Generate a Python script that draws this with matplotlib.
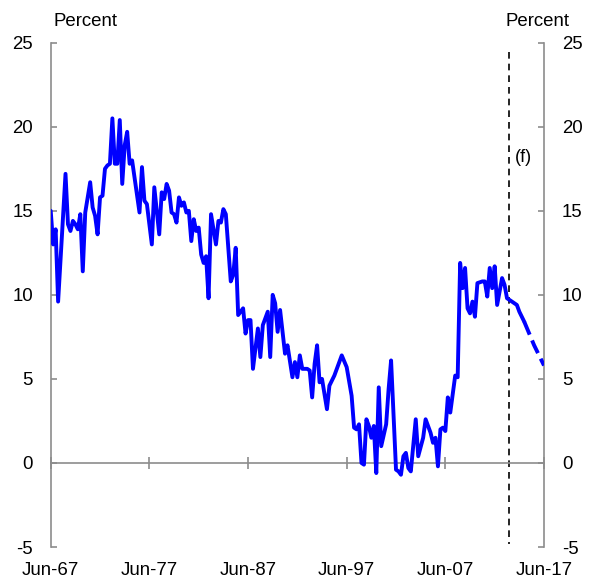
import matplotlib.pyplot as plt

# quarterly series (year-ended, per cent)
dates = [
    "1967-06", "1967-09", "1967-12", "1968-03", "1968-12", "1969-03", "1969-06", "1969-09",
    "1969-12", "1970-03", "1970-06", "1970-09", "1970-12", "1971-06", "1971-09", "1971-12",
    "1972-03", "1972-06", "1972-09", "1972-12", "1973-03", "1973-06", "1973-09", "1973-12",
    "1974-03", "1974-06", "1974-09", "1974-12", "1975-03", "1975-06", "1975-09", "1976-06",
    "1976-09", "1976-12", "1977-03", "1977-09", "1977-12", "1978-06", "1978-09", "1978-12",
    "1979-03", "1979-06", "1979-09", "1979-12", "1980-03", "1980-06", "1980-09", "1980-12",
    "1981-03", "1981-06", "1981-09", "1981-12", "1982-03", "1982-06", "1982-09", "1982-12",
    "1983-03", "1983-06", "1983-09", "1984-03", "1984-06", "1984-09", "1984-12", "1985-03",
    "1985-09", "1985-12", "1986-03", "1986-06", "1986-12", "1987-03", "1987-06", "1987-09",
    "1987-12", "1988-06", "1988-09", "1988-12", "1989-06", "1989-09", "1989-12", "1990-03",
    "1990-06", "1990-09", "1990-12", "1991-03", "1991-06", "1991-12", "1992-03", "1992-06",
    "1992-09", "1992-12", "1993-06", "1993-09", "1993-12", "1994-03", "1994-06", "1994-09",
    "1994-12", "1995-06", "1995-09", "1996-03", "1996-12", "1997-06", "1997-12", "1998-03",
    "1998-06", "1998-09", "1998-12", "1999-03", "1999-06", "1999-09", "1999-12", "2000-03",
    "2000-06", "2000-09", "2000-12", "2001-06", "2001-09", "2001-12", "2002-06", "2002-09",
    "2002-12", "2003-03", "2003-06", "2003-09", "2003-12", "2004-06", "2004-09", "2005-03",
    "2005-06", "2005-12", "2006-03", "2006-06", "2006-09", "2006-12", "2007-03", "2007-06",
    "2007-09", "2007-12", "2008-03", "2008-06", "2008-09", "2008-12", "2009-03", "2009-06",
    "2009-09", "2009-12", "2010-03", "2010-06", "2010-09", "2011-03", "2011-06", "2011-09",
    "2011-12", "2012-03", "2012-06", "2012-09", "2013-03", "2013-06", "2013-09", "2014-03",
    "2014-09", "2014-12", "2015-06",
]
values = [
    15.0, 13.0, 13.9, 9.6, 17.2, 14.2, 13.8, 14.4,
    14.2, 13.9, 14.8, 11.4, 14.9, 16.7, 15.2, 14.7,
    13.6, 15.8, 15.9, 17.5, 17.7, 17.8, 20.5, 17.8,
    17.8, 20.4, 16.6, 18.9, 19.7, 17.8, 18.0, 14.9,
    17.6, 15.6, 15.4, 13.0, 16.4, 13.6, 16.1, 15.7,
    16.6, 16.2, 14.9, 14.8, 14.3, 15.8, 15.3, 15.5,
    14.9, 15.0, 13.2, 14.5, 13.8, 14.0, 12.4, 11.9,
    12.3, 9.8, 14.8, 13.0, 14.4, 14.3, 15.1, 14.8,
    10.8, 11.2, 12.8, 8.8, 9.2, 7.7, 8.5, 8.5,
    5.6, 8.0, 6.3, 8.2, 9.0, 6.3, 10.0, 9.5,
    7.8, 9.1, 7.8, 6.5, 7.0, 5.1, 6.0, 5.1,
    6.4, 5.6, 5.6, 5.5, 3.9, 5.9, 7.0, 4.8,
    5.0, 3.2, 4.6, 5.2, 6.4, 5.7, 4.0, 2.1,
    2.0, 2.3, 0.0, -0.1, 2.6, 2.2, 1.5, 2.2,
    -0.6, 4.5, 1.0, 2.3, 4.4, 6.1, -0.4, -0.5,
    -0.7, 0.4, 0.6, -0.3, -0.5, 2.6, 0.4, 1.5,
    2.6, 1.8, 1.2, 1.5, -0.2, 2.0, 2.1, 1.9,
    3.9, 3.0, 4.1, 5.2, 5.1, 11.9, 10.4, 11.6,
    9.2, 8.9, 9.6, 8.7, 10.7, 10.8, 10.8, 9.9,
    11.6, 10.4, 11.7, 9.4, 11.0, 10.6, 9.8, 9.6,
    9.4, 9.0, 8.4,
]

# forecast
fcast_dates = ["2015-06", "2016-06", "2017-06"]
fcast_values = [8.4, 7.0, 5.8]
fcast_start = "2013-11"

xtick_dates = ["1967-06", "1977-06", "1987-06", "1997-06", "2007-06", "2017-06"]
xtick_labels = ["Jun-67", "Jun-77", "Jun-87", "Jun-97", "Jun-07", "Jun-17"]
yticks = [-5, 0, 5, 10, 15, 20, 25]


def to_year(d):
    y, m = d.split("-")
    return int(y) + int(m) / 12


plt.rcParams['font.family'] = ['Liberation Sans', 'DejaVu Sans']
grey = '#8c8c8c'
blue = '#0000ff'

fig = plt.figure(figsize=(5.89, 5.82), dpi=100)
ax = fig.add_axes([0.0861, 0.0601, 0.9236 - 0.0861, 0.9266 - 0.0601])

x = [to_year(d) for d in dates]
xf = [to_year(d) for d in fcast_dates]
ax.plot(x, values, color=blue, lw=2.8, solid_joinstyle='round', solid_capstyle='round', zorder=3)
ax.plot(xf, fcast_values, color=blue, lw=2.8, dashes=(3.6, 1.6), zorder=3)

xv = to_year(fcast_start)
ax.plot([xv, xv], [24.45, -4.8], color='black', lw=1.2, dashes=(4, 3), zorder=2)
ax.text(xv + 0.6, 18.2, "(f)", fontsize=13, ha='left', va='center')

ax.set_xlim(to_year(xtick_dates[0]), to_year(xtick_dates[-1]))
ax.set_ylim(-5, 25)
ax.set_yticks(yticks)
ax.set_yticklabels([str(v) for v in yticks])
ax.set_xticks([to_year(d) for d in xtick_dates])
ax.set_xticklabels(xtick_labels)

for side in ['left', 'right', 'bottom']:
    ax.spines[side].set_color(grey)
    ax.spines[side].set_linewidth(1.2)
ax.spines['top'].set_visible(False)
ax.spines['bottom'].set_position(('data', 0))

ax.tick_params(axis='y', which='both', left=True, right=True, labelleft=True, labelright=True,
               direction='in', length=4.5, width=1.2, color=grey, labelsize=13.4, pad=12.8)
ax.tick_params(axis='x', direction='inout', length=8.5, width=1.2, color=grey,
               labelsize=13.4, pad=67)

fig.text(0.090, 0.9553, "Percent", fontsize=13.4, ha='left', va='baseline')
fig.text(0.967, 0.9553, "Percent", fontsize=13.4, ha='right', va='baseline')

fig.savefig("out.png", dpi=100)
